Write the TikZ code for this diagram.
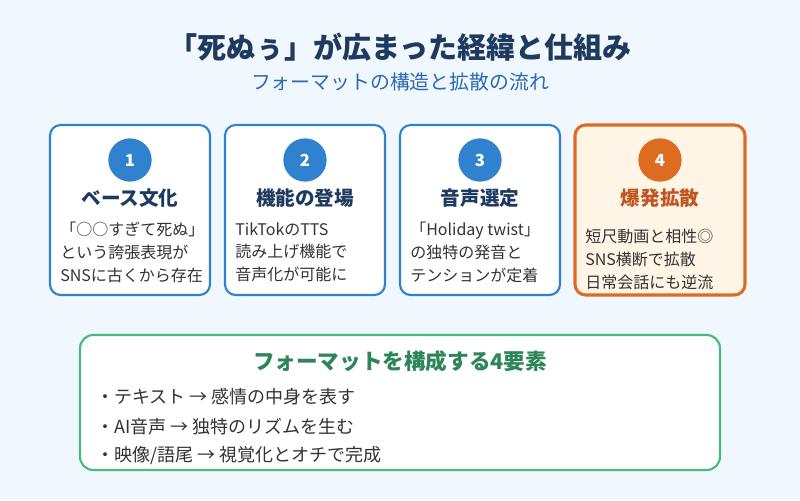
\documentclass[tikz,border=0pt]{standalone}
\usepackage{fontspec}
\setmainfont{Noto Sans CJK JP}
\usetikzlibrary{positioning}
\definecolor{shibg}{HTML}{F0F7FE}
\definecolor{shiblue}{HTML}{3182CE}
\definecolor{shinavy}{HTML}{1E3A5F}
\definecolor{shisub}{HTML}{2B6CB0}
\definecolor{shiorange}{HTML}{DD6B20}
\definecolor{shiorangetxt}{HTML}{C05621}
\definecolor{shicream}{HTML}{FFF5E6}
\definecolor{shigreen}{HTML}{48BB78}
\definecolor{shigreentxt}{HTML}{2F855A}
\definecolor{shitext}{HTML}{333333}

\begin{document}
\begin{tikzpicture}[x=0.75pt,y=-0.75pt,
  stagebox/.style={draw=shiblue,line width=1.6pt,fill=white,rounded corners=8pt},
  hotbox/.style={draw=shiorange,line width=2.3pt,fill=shicream,rounded corners=8pt},
  numdot/.style={circle,fill=shiblue,minimum size=32.5pt,inner sep=0pt,text=white,font=\bfseries\fontsize{12.5}{14}\selectfont},
  stagetitle/.style={text=shinavy,font=\bfseries\fontsize{14.7}{17}\selectfont},
  stagetext/.style={anchor=north west,align=left,text=shitext,inner sep=0pt,font=\fontsize{12}{17.2}\selectfont},
  bullet/.style={anchor=west,text=shitext,inner sep=0pt,font=\fontsize{13.5}{16}\selectfont}]
  \fill[shibg] (0,0) rectangle (800,500);

  % heading
  \node[text=shinavy,font=\bfseries\fontsize{21.8}{24}\selectfont] (title) at (400,47) {「死ぬぅ」が広まった経緯と仕組み};
  \node[text=shisub,font=\fontsize{14.9}{17}\selectfont] (subtitle) at (400,82) {フォーマットの構造と拡散の流れ};

  % four stages
  \draw[stagebox] (50,125) rectangle (210,295);
  \draw[stagebox] (225,125) rectangle (385,295);
  \draw[stagebox] (400,125) rectangle (560,295);
  \draw[hotbox] (575,125) rectangle (745,295);

  \node[numdot] (n1) at (130,160) {1};
  \node[numdot] (n2) at (305,160) {2};
  \node[numdot] (n3) at (480,160) {3};
  \node[numdot,fill=shiorange] (n4) at (660,160) {4};

  \node[stagetitle] (t1) at (130,198) {ベース文化};
  \node[stagetitle] (t2) at (305,198) {機能の登場};
  \node[stagetitle] (t3) at (480,198) {音声選定};
  \node[stagetitle,text=shiorangetxt] (t4) at (660,198) {爆発拡散};

  \node[stagetext] (b1) at (60,222) {「○○すぎて死ぬ」\\という誇張表現が\\SNSに古くから存在};
  \node[stagetext] (b2) at (235,222) {TikTokのTTS\\読み上げ機能で\\音声化が可能に};
  \node[stagetext] (b3) at (410,222) {「Holiday twist」\\の独特の発音と\\テンションが定着};
  \node[stagetext] (b4) at (585,229) {短尺動画と相性◎\\SNS横断で拡散\\日常会話にも逆流};

  % format elements
  \draw[draw=shigreen,line width=1.6pt,fill=white,rounded corners=10pt] (80,335) rectangle (720,470);
  \node[text=shigreentxt,font=\bfseries\fontsize{16.2}{19}\selectfont] (ftitle) at (400,361) {フォーマットを構成する4要素};
  \node[bullet] (e1) at (96,397) {・テキスト → 感情の中身を表す};
  \node[bullet] (e2) at (96,427) {・AI音声 → 独特のリズムを生む};
  \node[bullet] (e3) at (96,456) {・映像/語尾 → 視覚化とオチで完成};
\end{tikzpicture}
\end{document}
